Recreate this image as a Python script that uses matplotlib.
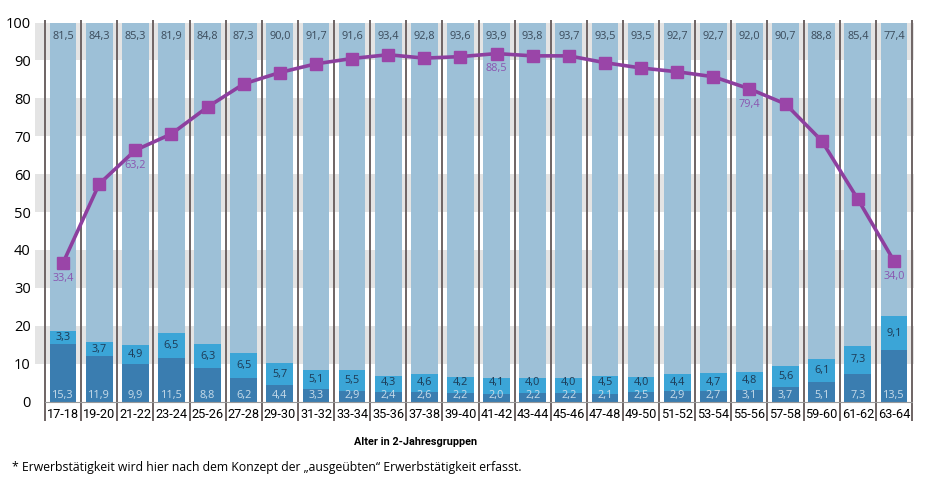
import matplotlib
matplotlib.use("Agg")
import matplotlib.pyplot as plt
import numpy as np

categories = ["17-18", "19-20", "21-22", "23-24", "25-26", "27-28", "29-30", "31-32",
              "33-34", "35-36", "37-38", "39-40", "41-42", "43-44", "45-46", "47-48",
              "49-50", "51-52", "53-54", "55-56", "57-58", "59-60", "61-62", "63-64"]
bottom_vals = [15.3, 11.9, 9.9, 11.5, 8.8, 6.2, 4.4, 3.3, 2.9, 2.4, 2.6, 2.2, 2.0, 2.2,
               2.2, 2.1, 2.5, 2.9, 2.7, 3.1, 3.7, 5.1, 7.3, 13.5]
middle_vals = [3.3, 3.7, 4.9, 6.5, 6.3, 6.5, 5.7, 5.1, 5.5, 4.3, 4.6, 4.2, 4.1, 4.0,
               4.0, 4.5, 4.0, 4.4, 4.7, 4.8, 5.6, 6.1, 7.3, 9.1]
top_vals = [81.5, 84.3, 85.3, 81.9, 84.8, 87.3, 90.0, 91.7, 91.6, 93.4, 92.8, 93.6, 93.9,
            93.8, 93.7, 93.5, 93.5, 92.7, 92.7, 92.0, 90.7, 88.8, 85.4, 77.4]
# line as drawn (marker positions)
line_vals = [36.6, 57.4, 66.3, 70.6, 77.7, 83.8, 86.8, 89.1, 90.5, 91.5, 90.6, 91.0,
             91.8, 91.2, 91.2, 89.4, 88.0, 87.0, 85.7, 82.5, 78.5, 68.8, 53.4, 37.1]
line_labels = {0: "33,4", 2: "63,2", 12: "88,5", 19: "79,4", 23: "34,0"}
yticks = [0, 10, 20, 30, 40, 50, 60, 70, 80, 90, 100]

C_BOT = "#3a7db0"
C_MID = "#3ba5d7"
C_TOP = "#9dc0d7"
C_BAND = "#e4e4e4"
C_SEP = "#6e6464"
C_LINE = "#8d3f9f"
C_MARK = "#9a45a8"

def fmt(v):
    return f"{v:.1f}".replace(".", ",")

fig = plt.figure(figsize=(9.25, 4.79), dpi=100)
ax = fig.add_axes([35/925, 1 - 401.5/479, (914 - 35)/925, (401.5 - 22.5)/479])

x = np.arange(len(categories))
left_lim = -0.5 - 10/36.1
right_lim = 23.5 + 2/36.1
ax.set_xlim(left_lim, right_lim)
ax.set_ylim(0, 100)

# background bands
for lo in range(10, 100, 20):
    ax.axhspan(lo, lo + 10, color=C_BAND, zorder=0, lw=0)

w = 0.74
bot = np.array(bottom_vals)
mid = np.array(middle_vals)
top = np.array(top_vals)
ax.bar(x, bot, width=w, color=C_BOT, zorder=2, lw=0)
ax.bar(x, mid, width=w, bottom=bot, color=C_MID, zorder=2, lw=0)
ax.bar(x, top, width=w, bottom=bot + mid, color=C_TOP, zorder=2, lw=0)

# separators
for s in np.arange(-0.5, len(categories), 1.0):
    ax.plot([s, s], [-5.2, 100.6], color=C_SEP, lw=1.4, zorder=3, clip_on=False,
            solid_capstyle="butt")
# baseline
ax.plot([-0.5, 23.5], [0, 0], color="#9a9a9a", lw=0.8, zorder=3, clip_on=False)

# labels on bars
fs = 7.8
for i in x:
    ax.text(i, 96.3, fmt(top_vals[i]), ha="center", va="center", fontsize=fs,
            color="#3a4a5a", family="Open Sans", zorder=4)
    ax.text(i, max(bot[i] + mid[i] / 2, 5.0), fmt(middle_vals[i]), ha="center",
            va="center", fontsize=fs, color="#1d3a55", family="Open Sans", zorder=4)
    ax.text(i, 1.6, fmt(bottom_vals[i]), ha="center", va="center", fontsize=fs,
            color="#c8dcea", family="Open Sans", zorder=4)

ax.plot(x, line_vals, color=C_LINE, lw=2.6, zorder=5, marker="s", markersize=9,
        markerfacecolor=C_MARK, markeredgecolor=C_MARK)
for i, lab in line_labels.items():
    ax.annotate(lab, (x[i], line_vals[i]), xytext=(0, -11), textcoords="offset points",
                ha="center", va="center", fontsize=fs, color="#8a55b0",
                family="Open Sans", zorder=6)

for sp in ax.spines.values():
    sp.set_visible(False)
ax.set_yticks(yticks)
ax.set_yticklabels([str(t) for t in yticks], fontsize=10.5, family="Open Sans")
ax.tick_params(axis="y", length=0, pad=3)
ax.set_xticks(x)
ax.set_xticklabels(categories, fontsize=9.2, family="Roboto")
ax.tick_params(axis="x", length=0, pad=5)

fig.text(416/925, 1 - 442/479, "Alter in 2-Jahresgruppen", ha="center", va="center",
         fontsize=7.8, fontweight="bold", family="Roboto")
fig.text(12/925, 1 - 467/479,
         "* Erwerbstätigkeit wird hier nach dem Konzept der \u201eausgeübten\u201c Erwerbstätigkeit erfasst.",
         ha="left", va="center", fontsize=8.8, family="Open Sans")

fig.savefig("out.png", dpi=100)
